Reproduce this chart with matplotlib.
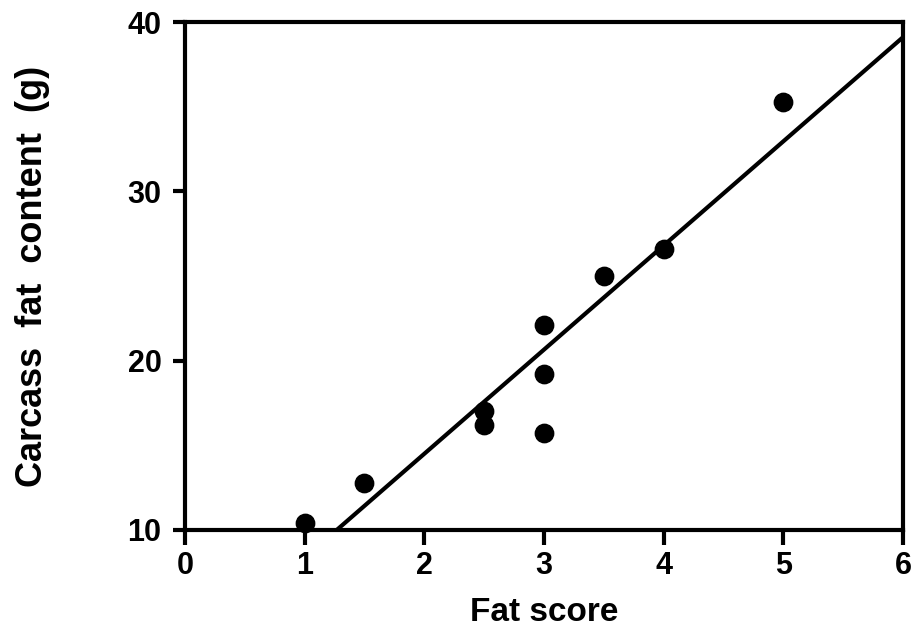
import matplotlib
matplotlib.use("Agg")
import matplotlib.pyplot as plt
import numpy as np

plt.rcParams['font.family'] = ['Liberation Sans', 'DejaVu Sans']
plt.rcParams['font.weight'] = 'bold'

# fat score vs carcass fat content (g)
fat_score = [1.0, 1.5, 2.5, 2.5, 3.0, 3.0, 3.0, 3.5, 4.0, 5.0]
carcass_fat = [10.4, 12.8, 17.0, 16.2, 22.1, 19.2, 15.7, 25.0, 26.6, 35.3]

# fitted regression line
slope, intercept = 6.15, 2.2

xticks = [0, 1, 2, 3, 4, 5, 6]
yticks = [10, 20, 30, 40]

fig = plt.figure(figsize=(9.14, 6.42), dpi=100)
ax = fig.add_axes([0.2024, 0.1745, 0.7855, 0.7912])

ax.scatter(fat_score, carcass_fat, s=175, color='black', zorder=3, clip_on=False)
xl = np.array([0, 6])
ax.plot(xl, slope * xl + intercept, color='black', lw=3)

ax.set_xlim(0, 6)
ax.set_ylim(10, 40)
ax.set_xticks(xticks)
ax.set_yticks(yticks)
for s in ax.spines.values():
    s.set_linewidth(3)
ax.tick_params(axis='x', length=11, width=3, pad=4, labelsize=22)
ax.tick_params(axis='y', length=9, width=3, pad=8, labelsize=22)

ax.set_xlabel("Fat score", fontsize=24, fontweight='bold', labelpad=12)
ax.set_ylabel("Carcass  fat  content  (g)", fontsize=26, fontweight='bold', labelpad=56)

fig.savefig("out.png", dpi=100)
